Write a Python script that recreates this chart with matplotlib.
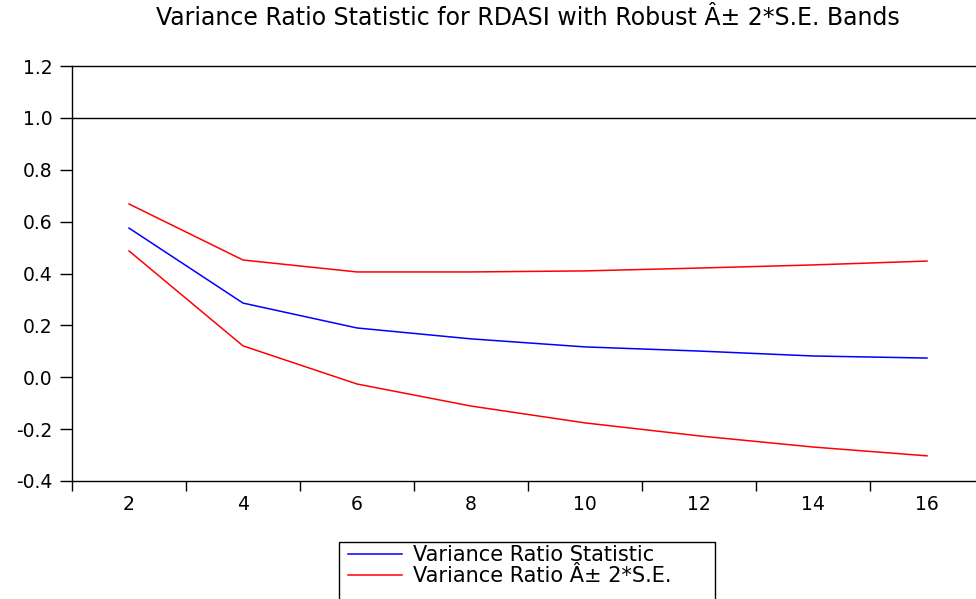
import matplotlib
matplotlib.use('Agg')
import matplotlib.pyplot as plt
from matplotlib.lines import Line2D
from matplotlib.patches import Rectangle

plt.rcParams['font.family'] = ['DejaVu Sans']

# ── Data ───────────────────────────────────────────────────────────────
lags = [2, 4, 6, 8, 10, 12, 14, 16]
vr_stat = [0.575, 0.286, 0.190, 0.148, 0.117, 0.101, 0.082, 0.074]
vr_upper = [0.668, 0.452, 0.406, 0.406, 0.410, 0.421, 0.433, 0.448]
vr_lower = [0.487, 0.121, -0.026, -0.111, -0.176, -0.226, -0.269, -0.303]
y_ticks = [-0.4, -0.2, 0.0, 0.2, 0.4, 0.6, 0.8, 1.0, 1.2]
x_ticks = [1, 3, 5, 7, 9, 11, 13, 15, 17]

W, H = 976, 599
fig = plt.figure(figsize=(W / 100, H / 100), dpi=100)
ax = fig.add_axes([72/W, 118/H, 912/W, 415/H])

ax.plot(lags, vr_stat, color='#0000ff', lw=1.1)
ax.plot(lags, vr_upper, color='#ff0000', lw=1.1)
ax.plot(lags, vr_lower, color='#ff0000', lw=1.1)
ax.axhline(1.0, color='black', lw=1.0)

ax.set_xlim(1, 17)
ax.set_ylim(-0.4, 1.2)
ax.set_yticks(y_ticks)
ax.set_yticklabels([f'{v:.1f}' for v in y_ticks], fontsize=13.5)
ax.set_xticks(x_ticks)
ax.set_xticklabels([])
ax.set_xticks(lags, minor=True)
ax.set_xticklabels([str(v) for v in lags], minor=True, fontsize=13.5)
ax.tick_params(axis='x', which='minor', length=0, pad=10)
ax.tick_params(axis='x', which='major', length=7, width=1, direction='out')
ax.tick_params(axis='y', length=9, width=1, direction='out', pad=5)
for s in ['left', 'top', 'bottom']:
    ax.spines[s].set_linewidth(1.0)
ax.spines['right'].set_visible(False)

fig.text(528/W, 1 - 18/H, 'Variance Ratio Statistic for RDASI with Robust Â± 2*S.E. Bands',
         ha='center', va='center', fontsize=17)

# legend box runs off the bottom edge in the reference
fig.patches.append(Rectangle((339/W, -0.05), (715 - 339)/W, 1 - 542/H + 0.05,
                             transform=fig.transFigure, fill=False,
                             edgecolor='black', lw=1.0))
handles = [Line2D([], [], color='#0000ff', lw=1.1),
           Line2D([], [], color='#ff0000', lw=1.1)]
fig.legend(handles, ['Variance Ratio Statistic', 'Variance Ratio Â± 2*S.E.'],
           loc='upper left', bbox_to_anchor=(348/W, 1 - 545/H),
           fontsize=15, frameon=False,
           handlelength=2.6, handletextpad=0.5, labelspacing=0.05,
           borderpad=0.0, borderaxespad=0)

fig.savefig('out.png', dpi=100)
